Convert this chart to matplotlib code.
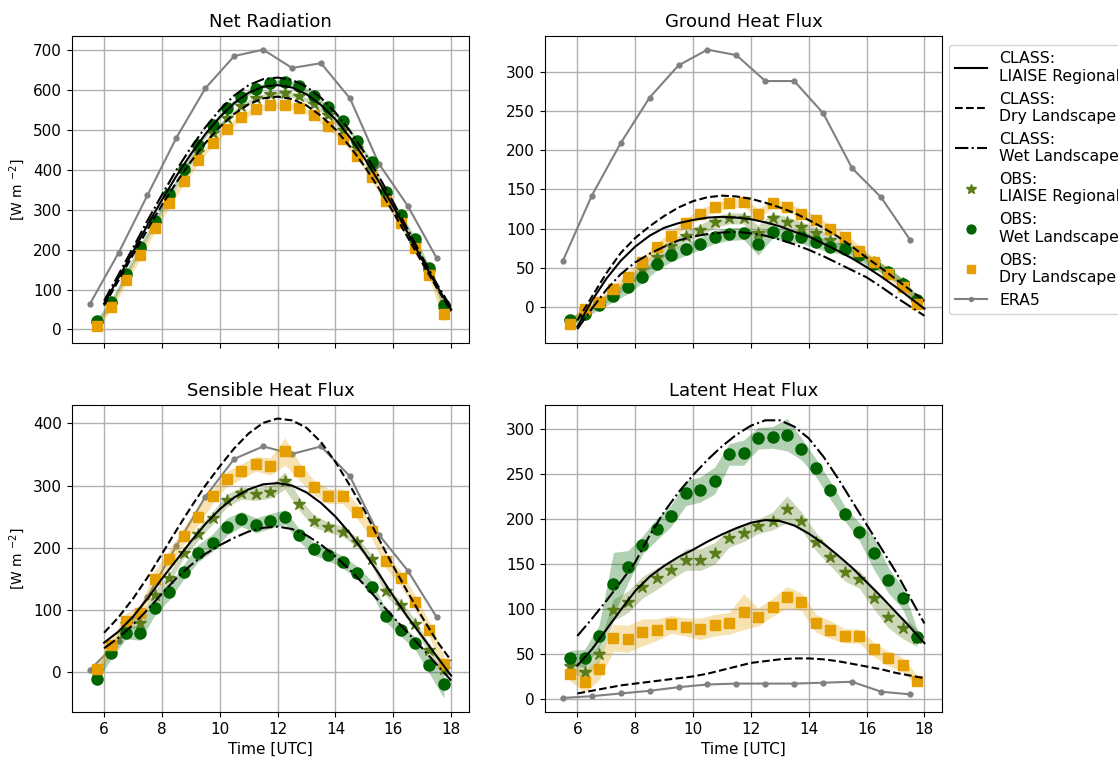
import numpy as np
import matplotlib
matplotlib.use("Agg")
import matplotlib.pyplot as plt

# time axes
t_obs = np.arange(5.75, 18.0, 0.5)      # 25 half-hourly obs
t_class = np.arange(6.0, 18.01, 0.5)    # CLASS model output
t_era = np.arange(5.5, 18.0, 1.0)       # ERA5 hourly

# ---------------- Net Radiation ----------------
rn_class_liaise = [65, 130, 195, 262, 325, 385, 440, 490, 533, 568, 594, 609, 613,
                   607, 590, 563, 527, 482, 430, 371, 308, 242, 175, 110, 50]
rn_class_dry = [60, 123, 187, 251, 312, 369, 421, 468, 508, 541, 565, 580, 584,
                578, 562, 536, 502, 459, 410, 354, 294, 231, 167, 105, 46]
rn_class_wet = [72, 138, 205, 273, 338, 400, 456, 507, 551, 587, 613, 628, 632,
                626, 609, 581, 544, 498, 444, 384, 319, 251, 182, 115, 55]
rn_obs_liaise = [15, 62, 132, 198, 265, 330, 392, 445, 492, 530, 560, 580, 590,
                 592, 585, 565, 538, 500, 455, 402, 338, 278, 215, 145, 50]
rn_obs_wet = [22, 69, 140, 208, 273, 340, 402, 462, 512, 556, 583, 603, 618,
              622, 612, 585, 558, 523, 473, 419, 345, 287, 226, 154, 61]
rn_obs_dry = [9, 57, 123, 187, 254, 317, 373, 425, 469, 504, 534, 552, 562,
              563, 556, 539, 510, 479, 435, 383, 323, 267, 204, 137, 40]
rn_sd_liaise = [6] * 25
rn_sd_wet = [6] * 25
rn_sd_dry = [8, 8, 10, 10, 10, 10, 10, 10, 8, 8, 8, 8, 8,
             8, 8, 8, 8, 8, 8, 10, 10, 10, 10, 10, 25]
rn_era = [63, 192, 337, 481, 605, 686, 702, 656, 668, 580, 416, 310, 179]

# ---------------- Ground Heat Flux ----------------
g_class_liaise = [-25, 8, 36, 59, 77, 91, 101, 107, 111, 114, 115, 114, 112,
                  108, 103, 96, 90, 81, 72, 62, 51, 39, 26, 12, -2]
g_class_dry = [-17, 13, 43, 69, 88, 103, 116, 127, 135, 140, 142, 141, 138,
               133, 127, 120, 111, 101, 90, 77, 63, 50, 36, 22, 8]
g_class_wet = [-28, -2, 22, 42, 57, 68, 77, 85, 90, 93, 95, 96, 94,
               91, 86, 80, 73, 65, 56, 47, 38, 26, 13, 1, -11]
g_obs_liaise = [-18, -5, 5, 18, 32, 48, 64, 78, 90, 98, 108, 113, 113,
                94, 113, 108, 102, 94, 85, 79, 69, 57, 45, 31, 9]
g_obs_wet = [-17, -9, 3, 14, 25, 39, 55, 66, 74, 81, 89, 93, 94,
             80, 96, 91, 89, 83, 77, 74, 66, 55, 45, 30, 9]
g_obs_dry = [-21, -2, 6, 23, 39, 57, 76, 91, 107, 119, 127, 132, 134,
             119, 132, 128, 119, 111, 99, 89, 72, 57, 42, 26, 4]
g_sd_liaise = [4, 4, 5, 6, 6, 7, 7, 7, 7, 7, 7, 7, 7,
               10, 7, 7, 7, 7, 6, 6, 6, 5, 5, 5, 5]
g_sd_wet = [4, 5, 6, 7, 8, 8, 8, 8, 8, 8, 8, 8, 8,
            14, 8, 8, 8, 8, 7, 7, 7, 6, 6, 6, 6]
g_sd_dry = [5, 5, 5, 6, 6, 6, 6, 6, 6, 6, 6, 6, 6,
            6, 6, 6, 6, 6, 6, 6, 6, 6, 6, 6, 6]
g_era = [59, 142, 209, 267, 308, 328, 321, 288, 288, 247, 177, 140, 86]

# ---------------- Sensible Heat Flux ----------------
h_class_liaise = [47, 65, 89, 118, 150, 180, 210, 238, 262, 281, 294, 302, 304,
                  300, 289, 272, 250, 223, 192, 158, 122, 88, 57, 25, -6]
h_class_dry = [63, 88, 118, 152, 190, 228, 265, 300, 331, 360, 384, 401, 408,
               405, 393, 370, 338, 300, 260, 214, 170, 128, 88, 50, 18]
h_class_wet = [38, 55, 76, 100, 126, 151, 172, 190, 204, 216, 226, 232, 234,
               230, 220, 205, 186, 164, 140, 114, 88, 63, 38, 12, -14]
h_obs_liaise = [2, 38, 77, 79, 124, 151, 191, 222, 248, 276, 288, 286, 290,
                308, 270, 243, 233, 226, 209, 181, 130, 107, 77, 36, 4]
h_obs_wet = [-11, 30, 63, 63, 103, 128, 161, 191, 208, 234, 246, 236, 243,
             249, 220, 198, 189, 177, 160, 137, 90, 68, 46, 11, -20]
h_obs_dry = [5, 43, 82, 95, 149, 182, 219, 250, 283, 311, 323, 335, 331,
             355, 323, 297, 283, 283, 258, 227, 178, 151, 112, 68, 13]
h_sd_liaise = [6, 7, 8, 8, 8, 8, 8, 10, 10, 10, 10, 10, 10,
               14, 10, 10, 8, 8, 8, 8, 8, 8, 8, 8, 10]
h_sd_wet = [6, 8, 10, 12, 12, 12, 12, 14, 14, 14, 12, 12, 12,
            12, 10, 10, 10, 10, 10, 10, 10, 10, 10, 14, 22]
h_sd_dry = [8, 10, 12, 12, 14, 14, 14, 14, 12, 12, 12, 12, 14,
            22, 14, 12, 12, 12, 12, 12, 12, 12, 12, 12, 14]
h_era = [3, 49, 121, 203, 282, 343, 363, 351, 363, 315, 221, 163, 88]

# ---------------- Latent Heat Flux ----------------
le_class_liaise = [37, 55, 77, 99, 120, 136, 148, 158, 166, 175, 183, 190, 196,
                   199, 198, 193, 184, 173, 160, 146, 130, 114, 97, 80, 62]
le_class_dry = [6, 9, 12, 15, 17, 19, 21, 23, 25, 28, 32, 36, 40,
                42, 44, 45, 45, 44, 42, 39, 36, 33, 29, 26, 23]
le_class_wet = [70, 89, 109, 130, 152, 182, 208, 230, 249, 266, 281, 294, 304,
                310, 310, 303, 290, 270, 246, 220, 194, 168, 142, 113, 84]
le_obs_liaise = [37, 30, 50, 99, 108, 124, 134, 143, 155, 155, 162, 179, 185,
                 192, 198, 211, 198, 175, 158, 141, 133, 112, 91, 79, 68]
le_obs_wet = [46, 45, 70, 128, 147, 171, 189, 204, 229, 233, 243, 272, 274,
              290, 291, 294, 278, 257, 232, 206, 186, 162, 132, 112, 69]
le_obs_dry = [28, 19, 33, 68, 67, 74, 77, 83, 80, 78, 82, 84, 97,
              91, 102, 113, 108, 84, 77, 70, 70, 55, 45, 38, 20]
le_sd_liaise = [6, 8, 10, 12, 12, 12, 12, 10, 12, 12, 12, 10, 10,
                8, 10, 15, 10, 10, 10, 10, 10, 12, 12, 12, 10]
le_sd_wet = [8, 10, 12, 35, 18, 10, 12, 12, 14, 14, 15, 12, 14,
             12, 12, 18, 12, 10, 10, 8, 10, 18, 14, 12, 8]
le_sd_dry = [8, 12, 12, 15, 15, 15, 12, 10, 10, 12, 12, 12, 20,
             10, 10, 12, 10, 10, 10, 8, 8, 8, 8, 8, 6]
le_era = [1, 3, 6, 9, 13, 16, 17, 17, 17, 18, 19, 8, 5]

titles = ["Net Radiation", "Ground Heat Flux", "Sensible Heat Flux", "Latent Heat Flux"]

panels = [
    (rn_class_liaise, rn_class_dry, rn_class_wet, rn_obs_liaise, rn_sd_liaise,
     rn_obs_wet, rn_sd_wet, rn_obs_dry, rn_sd_dry, rn_era),
    (g_class_liaise, g_class_dry, g_class_wet, g_obs_liaise, g_sd_liaise,
     g_obs_wet, g_sd_wet, g_obs_dry, g_sd_dry, g_era),
    (h_class_liaise, h_class_dry, h_class_wet, h_obs_liaise, h_sd_liaise,
     h_obs_wet, h_sd_wet, h_obs_dry, h_sd_dry, h_era),
    (le_class_liaise, le_class_dry, le_class_wet, le_obs_liaise, le_sd_liaise,
     le_obs_wet, le_sd_wet, le_obs_dry, le_sd_dry, le_era),
]

c_liaise = "#5a7d1a"
c_wet = "#006400"
c_dry = "#e69f00"

fig, axes = plt.subplots(2, 2, figsize=(11.18, 7.59), dpi=100, sharex=True)
fig.subplots_adjust(left=0.064, right=0.843, top=0.953, bottom=0.062,
                    wspace=0.19, hspace=0.2)

for ax, title, p in zip(axes.flat, titles, panels):
    cl, cd, cw, ol, sl, ow, sw, od, sd, era = [np.array(v, dtype=float) for v in p]

    ax.plot(t_era, era, color="gray", marker=".", ms=7, lw=1.5,
            label="ERA5", zorder=2)

    for obs, spr, col, mk, ms, lab in [
        (ol, sl, c_liaise, "*", 9, "OBS:\nLIAISE Regional"),
        (ow, sw, c_wet, "o", 8, "OBS:\nWet Landscape"),
        (od, sd, c_dry, "s", 7.5, "OBS:\nDry Landscape"),
    ]:
        ax.fill_between(t_obs, obs - spr, obs + spr, color=col, alpha=0.3,
                        lw=0, zorder=2)
        ax.plot(t_obs, obs, ls="none", marker=mk, ms=ms, color=col, label=lab,
                zorder=3)

    ax.plot(t_class, cl, color="black", ls="-", lw=1.5,
            label="CLASS:\nLIAISE Regional", zorder=4)
    ax.plot(t_class, cd, color="black", ls="--", lw=1.5,
            label="CLASS:\nDry Landscape", zorder=4)
    ax.plot(t_class, cw, color="black", ls="-.", lw=1.5,
            label="CLASS:\nWet Landscape", zorder=4)

    ax.set_title(title, fontsize=13)
    ax.grid(True, color="#b0b0b0", lw=1)
    ax.set_axisbelow(True)
    ax.tick_params(labelsize=11)

axes[0, 0].set_xticks([6, 8, 10, 12, 14, 16, 18])
axes[0, 0].set_ylabel(r"[W m $^{-2}$]", fontsize=10)
axes[1, 0].set_ylabel(r"[W m $^{-2}$]", fontsize=10)
axes[1, 0].set_xlabel("Time [UTC]", fontsize=11)
axes[1, 1].set_xlabel("Time [UTC]", fontsize=11)

handles, labels = axes[0, 1].get_legend_handles_labels()
order = ["CLASS:\nLIAISE Regional", "CLASS:\nDry Landscape", "CLASS:\nWet Landscape",
         "OBS:\nLIAISE Regional", "OBS:\nWet Landscape", "OBS:\nDry Landscape", "ERA5"]
hmap = dict(zip(labels, handles))
axes[0, 1].legend([hmap[k] for k in order], order, loc="upper left",
                  bbox_to_anchor=(1.005, 0.985), fontsize=11.3, handlelength=2,
                  labelspacing=0.5, borderaxespad=0.3, markerscale=0.8)

plt.savefig("out.png", dpi=100)
